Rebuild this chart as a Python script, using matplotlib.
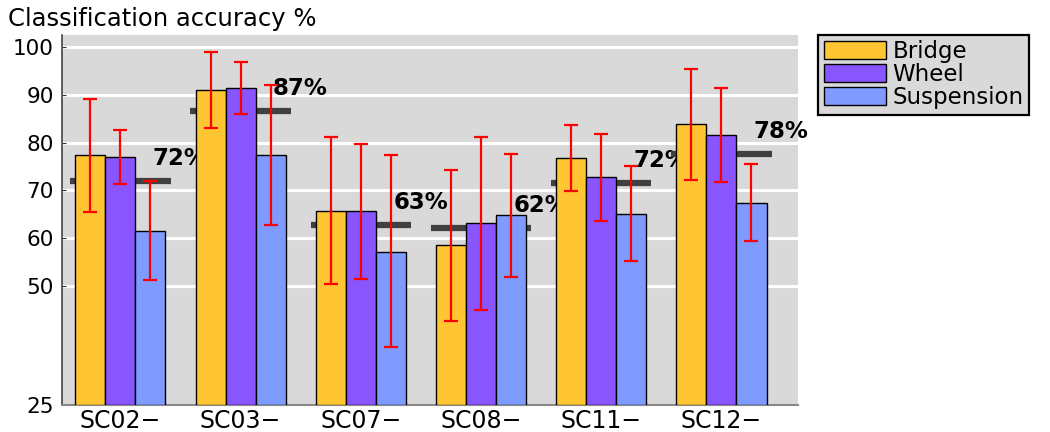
import matplotlib
matplotlib.use("Agg")
import matplotlib.pyplot as plt
import numpy as np

plt.rcParams['font.family'] = ['DejaVu Sans']

categories = ["SC02\u2212", "SC03\u2212", "SC07\u2212", "SC08\u2212", "SC11\u2212", "SC12\u2212"]
series_names = ["Bridge", "Wheel", "Suspension"]
bridge = [77.4, 91.1, 65.7, 58.5, 76.8, 83.8]
wheel = [76.9, 91.5, 65.7, 63.1, 72.7, 81.6]
suspension = [61.5, 77.4, 57.1, 64.8, 65.0, 67.4]
bridge_lo = [65.5, 83.0, 50.4, 42.7, 69.9, 72.2]
bridge_hi = [89.2, 99.0, 81.1, 74.2, 83.6, 95.4]
wheel_lo = [71.3, 86.0, 51.5, 45.0, 63.6, 71.8]
wheel_hi = [82.6, 96.9, 79.7, 81.2, 81.9, 91.5]
susp_lo = [51.1, 62.8, 37.1, 51.9, 55.1, 59.3]
susp_hi = [72.0, 92.0, 77.3, 77.6, 75.0, 75.5]
means = [72.0, 86.7, 62.8, 62.1, 71.5, 77.6]
mean_labels = ["72%", "87%", "63%", "62%", "72%", "78%"]
yticks = [25, 50, 60, 70, 80, 90, 100]

colors = ["#ffc532", "#8855ff", "#809bff"]

fig = plt.figure(figsize=(10.5, 4.32), dpi=100)
ax = fig.add_axes([0.059, 0.0625, 0.701, 0.857])
ax.set_facecolor("#d9d9d9")

x = np.arange(len(categories))
w = 0.25
vals = [bridge, wheel, suspension]
los = [bridge_lo, wheel_lo, susp_lo]
his = [bridge_hi, wheel_hi, susp_hi]

for yv in yticks[1:]:
    ax.axhline(yv, color="white", lw=2.2, zorder=1)

# mean lines and labels (below bars)
for i, m in enumerate(means):
    ax.plot([x[i] - 0.417, x[i] + 0.417], [m, m], color="#404040", lw=4.5,
            solid_capstyle="butt", zorder=2)
    ax.text(x[i] + 0.27, m + 3.3, mean_labels[i], fontsize=16.5, fontweight="bold",
            ha="left", va="baseline", color="black", zorder=2)

for k in range(3):
    xs = x + (k - 1) * w
    v = np.array(vals[k])
    ax.bar(xs, v - 25, bottom=25, width=w, color=colors[k], edgecolor="black",
           linewidth=1.0, zorder=3, label=series_names[k])
    yerr = np.vstack([v - np.array(los[k]), np.array(his[k]) - v])
    ax.errorbar(xs, v, yerr=yerr, fmt="none", ecolor="#ff0000", elinewidth=1.6,
                capsize=4.8, capthick=1.6, zorder=4)

ax.set_ylim(25, 102.6)
ax.set_xlim(-0.486, 5.637)
ax.set_yticks(yticks)
ax.set_yticklabels([str(t) for t in yticks], fontsize=15.5)
ax.set_xticks(x)
ax.set_xticklabels(categories, fontsize=17)
ax.tick_params(axis="y", length=3, direction="in", pad=6, color="#333333")
ax.tick_params(axis="x", length=0, pad=3)
for s in ["top", "right"]:
    ax.spines[s].set_visible(False)
ax.spines["left"].set_color("#444444")
ax.spines["left"].set_linewidth(1.2)
ax.spines["bottom"].set_color("#888888")
ax.spines["bottom"].set_linewidth(1.5)

fig.text(0.008, 0.957, "Classification accuracy %", fontsize=17.5, ha="left", va="center")

leg = fig.legend(loc="upper left", bbox_to_anchor=(0.779, 0.92), fontsize=16.5,
                 frameon=True, fancybox=False, handlelength=2.7, handleheight=0.85,
                 handletextpad=0.3, labelspacing=0.0, borderpad=0.25, borderaxespad=0)
leg.get_frame().set_facecolor("#d9d9d9")
leg.get_frame().set_edgecolor("black")
leg.get_frame().set_linewidth(1.6)
leg.get_frame().set_alpha(1)

fig.savefig("out.png", dpi=100)
